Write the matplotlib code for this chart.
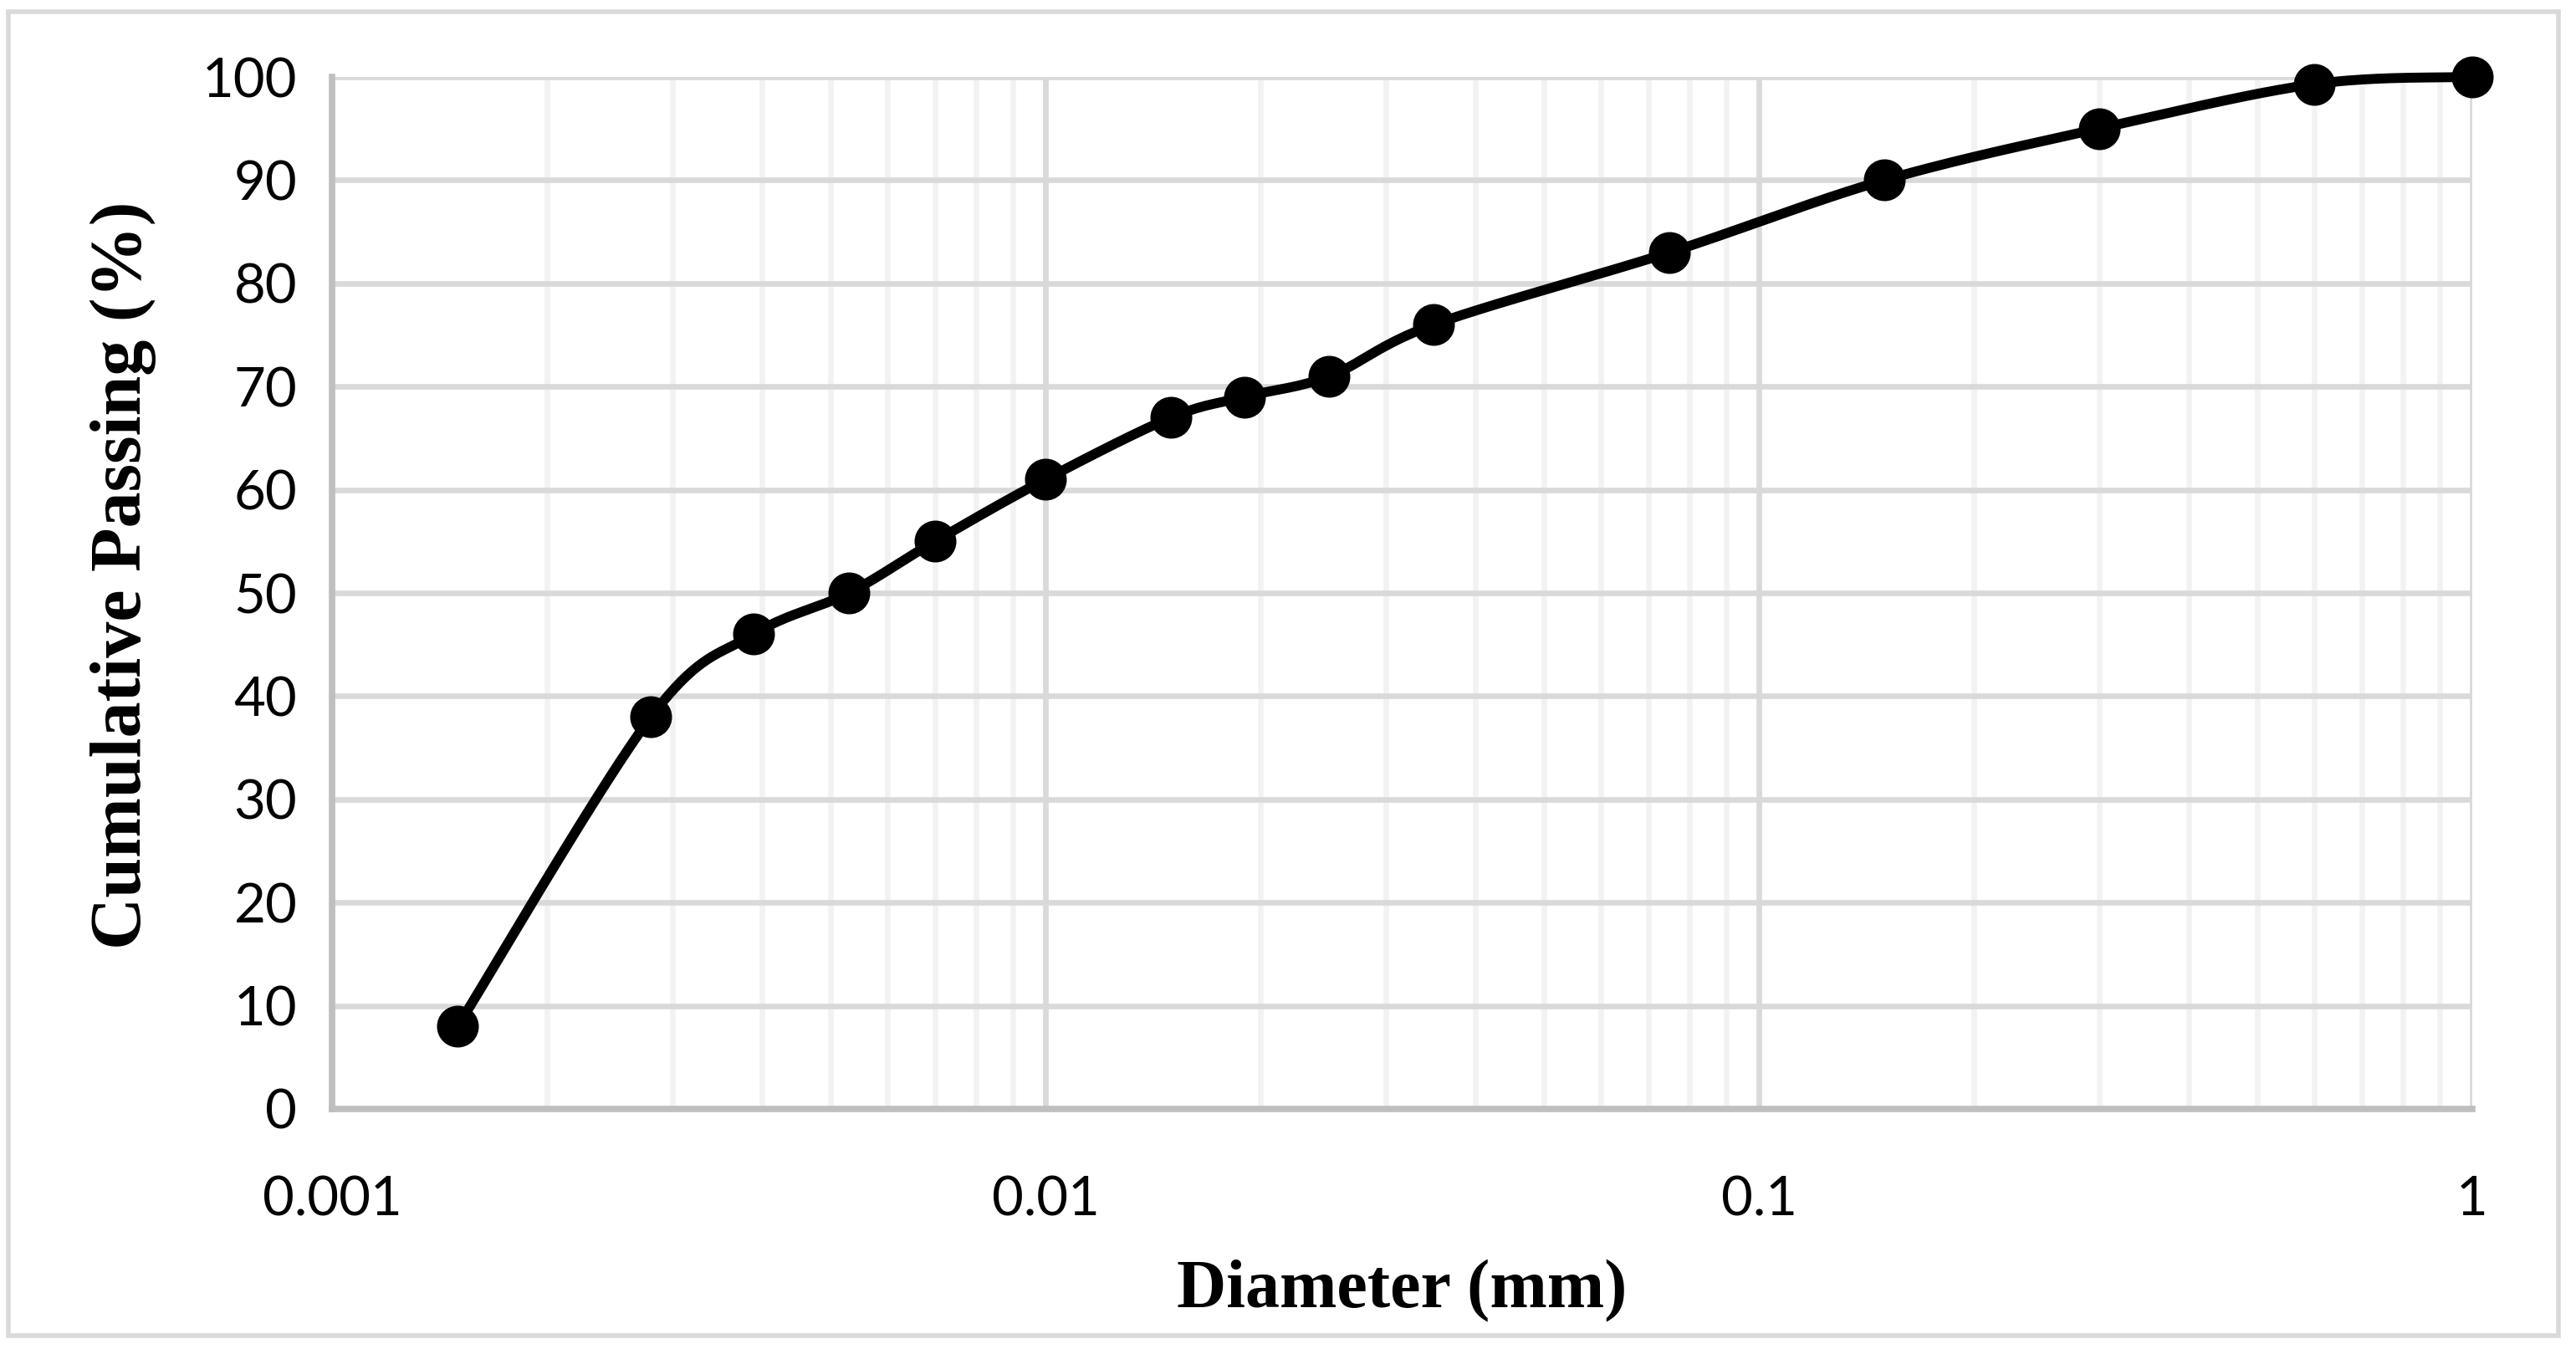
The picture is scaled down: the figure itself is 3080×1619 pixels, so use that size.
import numpy as np
import matplotlib
matplotlib.use("Agg")
import matplotlib.pyplot as plt
from matplotlib.ticker import FixedLocator, FixedFormatter, NullFormatter
from matplotlib.patches import Rectangle

# Data
diameter_mm = [0.0015, 0.0028, 0.0039, 0.0053, 0.007, 0.01, 0.015, 0.019,
               0.025, 0.035, 0.075, 0.15, 0.3, 0.6, 1.0]
passing_pct = [8, 38, 46, 50, 55, 61, 67, 69, 71, 76, 83, 90, 95, 99.3, 100]
x_tick_vals = [0.001, 0.01, 0.1, 1]
x_tick_labels = ["0.001", "0.01", "0.1", "1"]
y_tick_vals = list(range(0, 101, 10))

W, H = 3080, 1619
fig = plt.figure(figsize=(W / 100, H / 100), dpi=100)
ax = fig.add_axes([397 / W, 1 - 1326 / H, (2956 - 397) / W, (1326 - 92) / H])

ax.set_xscale("log")
ax.set_xlim(0.001, 1)
ax.set_ylim(0, 100)

# Smoothed line (Excel-like Bezier through points, computed in axes-pixel space)
axw, axh = (2956 - 397), (1326 - 92)
lx = np.log10(np.array(diameter_mm))
px = (lx + 3) / 3 * axw
py = np.array(passing_pct) / 100 * axh
pts = np.column_stack([px, py])
n = len(pts)
curve = []
t = np.linspace(0, 1, 40)
for i in range(n - 1):
    p0 = pts[i]
    p3 = pts[i + 1]
    pm = pts[i - 1] if i > 0 else pts[i]
    pp = pts[i + 2] if i + 2 < n else pts[i + 1]
    c1 = p0 + (p3 - pm) / 6
    c2 = p3 - (pp - p0) / 6
    seg = ((1 - t)[:, None] ** 3 * p0 + 3 * ((1 - t) ** 2 * t)[:, None] * c1
           + 3 * ((1 - t) * t ** 2)[:, None] * c2 + (t ** 3)[:, None] * p3)
    curve.append(seg if i == 0 else seg[1:])
curve = np.vstack(curve)
cx = 10 ** (curve[:, 0] / axw * 3 - 3)
cy = curve[:, 1] / axh * 100

ax.plot(cx, cy, color="black", lw=8.5, solid_capstyle="round", zorder=3, clip_on=False)
ax.plot(diameter_mm, passing_pct, linestyle="none", marker="o", ms=35,
        color="black", zorder=4, clip_on=False)

# Grid
ax.set_axisbelow(True)
ax.xaxis.set_major_locator(FixedLocator(x_tick_vals))
ax.xaxis.set_major_formatter(FixedFormatter(x_tick_labels))
minor = [m * 10.0 ** e for e in (-3, -2, -1) for m in range(2, 10)]
ax.xaxis.set_minor_locator(FixedLocator(minor))
ax.xaxis.set_minor_formatter(NullFormatter())
ax.yaxis.set_major_locator(FixedLocator(y_tick_vals))

ax.grid(which="major", axis="y", color="#d9d9d9", lw=4.8)
ax.grid(which="major", axis="x", color="#d9d9d9", lw=4.8)
ax.grid(which="minor", axis="x", color="#f2f2f2", lw=4.8)

for s in ("top", "right"):
    ax.spines[s].set_visible(False)
for s in ("left", "bottom"):
    ax.spines[s].set_color("#bfbfbf")
    ax.spines[s].set_linewidth(5.5)

ax.tick_params(which="both", length=0)
ax.tick_params(axis="y", pad=30)
ax.tick_params(axis="x", pad=57)
for lab in ax.get_xticklabels() + ax.get_yticklabels():
    lab.set_fontfamily(["Lato", "DejaVu Sans"])
    lab.set_fontsize(47)
    lab.set_color("black")

ax.set_xlabel("Diameter (mm)", fontfamily="Liberation Serif", fontweight="bold",
              fontsize=59, labelpad=30)
ax.set_ylabel("Cumulative Passing (%)", fontfamily="Liberation Serif", fontweight="bold",
              fontsize=62)
ax.yaxis.set_label_coords(-0.082, 0.517)

# Outer chart border
fig.patches.append(Rectangle((10 / W, 1 - 1597 / H), (3059 - 10) / W, (1597 - 14) / H,
                             transform=fig.transFigure, fill=False,
                             edgecolor="#d9d9d9", lw=4, zorder=0))

fig.savefig("out.png", dpi=100, facecolor="white")
